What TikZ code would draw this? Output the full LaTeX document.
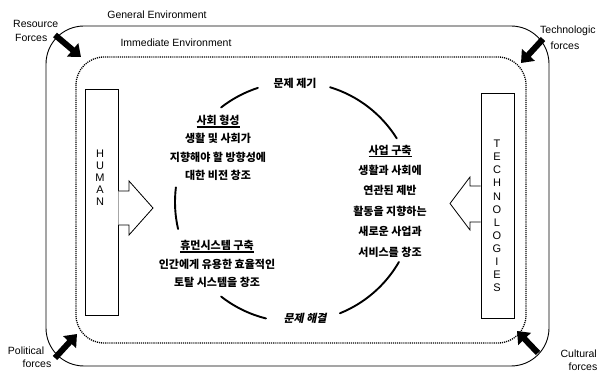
\documentclass[tikz,border=0pt]{standalone}
\usepackage{fontspec}
\setmainfont{Liberation Sans}
\newfontfamily\kr{Noto Sans CJK KR}
\newfontfamily\krsl{Noto Sans CJK KR}[FakeSlant=0.2]
\usetikzlibrary{arrows.meta,calc}
\newcommand\kul[1]{\setbox0\hbox{#1}\rlap{\rule[-3pt]{\wd0}{1.2pt}}\box0}
\begin{document}
\begin{tikzpicture}[x=1pt,y=-1pt,
  lab/.style={font=\fontsize{10.5}{12}\selectfont, inner sep=0pt},
  force/.style={line width=6pt, -{Triangle[length=11pt,width=17pt]}},
  ko/.style={font=\kr\bfseries\fontsize{11}{#1}\selectfont, align=center, inner sep=0pt},
  ko/.default=19,
  cyc/.style={line width=1.9pt, line cap=round},
  pillar/.style={draw, line width=0.9pt, minimum width=33pt, inner sep=0pt},
  vletters/.style={font=\fontsize{11}{#1}\selectfont, align=center, inner sep=0pt},
  blockarrow/.style={draw, line width=0.8pt, fill=white, line join=miter}
]
\useasboundingbox (0,0) rectangle (598,374);

% environments
\draw[line width=0.9pt, rounded corners=38pt] (46,26) rectangle (549,366);
\draw[line width=1.3pt, dash pattern=on 1.1pt off 1pt, rounded corners=28pt] (76,57) rectangle (526,343);

\node[lab] (gen) at (157,15) {General Environment};
\node[lab] (imm) at (176,43) {Immediate Environment};

% force labels
\node[lab, anchor=west] (res1) at (13,24) {Resource};
\node[lab, anchor=west] (res2) at (15,38) {Forces};
\node[lab, anchor=west] (tec1) at (540,31) {Technologic};
\node[lab] (tec2) at (565,46) {forces};
\node[lab] (pol1) at (26,351) {Political};
\node[lab] (pol2) at (37,364) {forces};
\node[lab, anchor=east] (cul1) at (597,354) {Cultural};
\node[lab] (cul2) at (583,367) {forces};

% force arrows
\coordinate (rs) at (55,35);  \coordinate (re) at (81,57);
\coordinate (ts) at (543,39); \coordinate (te) at (521,63);
\coordinate (ps) at (55,358); \coordinate (pe) at (77,334);
\coordinate (cs) at (538,353); \coordinate (ce) at (517,331);
\draw[force] (rs) -- (re);
\draw[force] (ts) -- (te);
\draw[force] (ps) -- (pe);
\draw[force] (cs) -- (ce);

% pillars
\node[pillar, minimum height=226pt] (human) at (101.5,202) {};
\node[pillar, minimum height=225pt] (tech) at (497.5,205.5) {};
\node[vletters=12] (hl) at (100,178) {H\\U\\M\\A\\N};
\node[vletters=13.1] (tl) at (497,216) {T\\E\\C\\H\\N\\O\\L\\O\\G\\I\\E\\S};

% block arrows
\draw[blockarrow] (human.east |- 0,191) -- (129,191) -- (129,181) -- (153,208) -- (129,235) -- (129,225) -- (human.east |- 0,225);
\draw[blockarrow] (tech.west |- 0,186) -- (470,186) -- (470,177) -- (450,203.5) -- (470,230) -- (470,222) -- (tech.west |- 0,222);

% cycle
\coordinate (c) at (295,202);
\draw[cyc] ($(c)+(108:120pt)$) arc[start angle=108, end angle=128, radius=120pt];
\draw[cyc] ($(c)+(32:120pt)$) arc[start angle=32, end angle=73, radius=120pt];
\draw[cyc] ($(c)+(173:120pt)$) arc[start angle=173, end angle=193, radius=120pt];
\draw[cyc] ($(c)+(232:120pt)$) arc[start angle=232, end angle=256, radius=120pt];
\draw[cyc] ($(c)+(292:120pt)$) arc[start angle=292, end angle=330, radius=120pt];

\node[ko] (top) at (295,83) {문제 제기};
\node[font=\krsl\bfseries\fontsize{11}{13}\selectfont, inner sep=0pt] (bot) at (305,318) {문제 해결};

\node[ko=18.3] (soc) at (218,148) {\kul{사회 형성}\\생활 및 사회가\\지향해야 할 방향성에\\대한 비전 창조};
\node[ko=20.4] (bus) at (390,201) {\kul{사업 구축}\\생활과 사회에\\연관된 제반\\활동을 지향하는\\새로운 사업과\\서비스를 창조};
\node[ko=18.5] (hs) at (217,264) {\kul{휴먼시스템 구축}\\인간에게 유용한 효율적인\\토탈 시스템을 창조};
\end{tikzpicture}
\end{document}
